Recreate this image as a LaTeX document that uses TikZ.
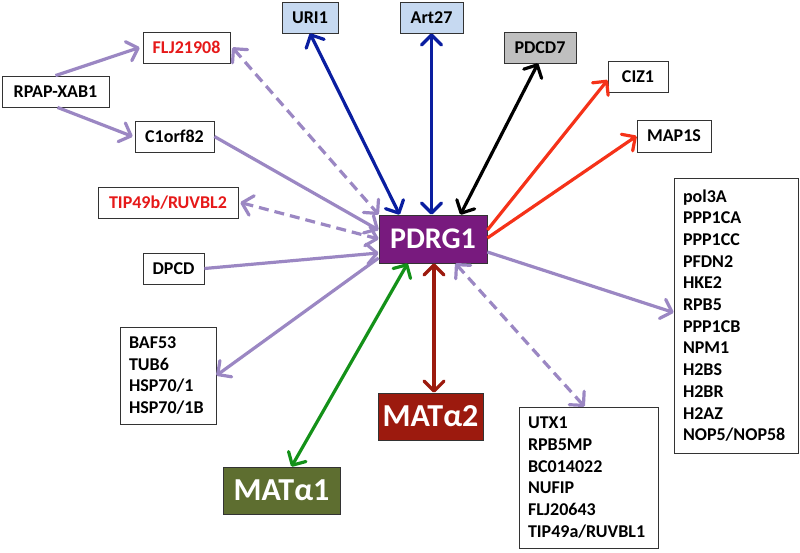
\documentclass[tikz,border=0pt]{standalone}
\usepackage{fontspec}
\setmainfont{Carlito}
\usetikzlibrary{arrows.meta}
\definecolor{lav}{RGB}{155,135,195}
\definecolor{pdrgc}{RGB}{120,26,126}
\definecolor{mat1c}{RGB}{94,110,48}
\definecolor{mat2c}{RGB}{156,26,14}
\definecolor{bluec}{RGB}{10,30,160}
\definecolor{redc}{RGB}{245,50,25}
\definecolor{greenc}{RGB}{20,145,25}
\definecolor{lbluec}{RGB}{198,217,241}
\definecolor{grayc}{RGB}{191,191,191}
\definecolor{redtext}{RGB}{230,25,25}
\begin{document}
\begin{tikzpicture}[x=1pt,y=-1pt,
  box/.style={draw=black!80, line width=0.8pt, fill=white, inner sep=0pt,
    font=\fontsize{18}{21.7}\selectfont\bfseries},
  listbox/.style={box, align=left, inner xsep=9pt},
  bigbox/.style={draw=black!80, line width=0.8pt, inner sep=0pt, text=white},
  tipa/.tip={Straight Barb[length=10pt,width=20pt,round]},
  conn/.style={line width=3.2pt, -tipa},
  both/.style={line width=3.2pt, tipa-tipa},
  dsh/.style={dash pattern=on 10pt off 6pt}
]
\useasboundingbox (0,0) rectangle (800,552);

% nodes
\node[box, fill=lbluec, minimum width=56pt, minimum height=31pt] (uri) at (310,17.5) {URI1};
\node[box, fill=lbluec, minimum width=63pt, minimum height=31pt] (art) at (431.5,17.5) {Art27};
\node[box, fill=grayc, minimum width=72pt, minimum height=31pt] (pdcd) at (540,47.5) {PDCD7};
\node[box, minimum width=60pt, minimum height=31pt] (ciz) at (638,76.5) {CIZ1};
\node[box, minimum width=74pt, minimum height=32pt] (map) at (674,136) {MAP1S};
\node[box, text=redtext, minimum width=87pt, minimum height=31pt] (flj) at (186.5,47.5) {FLJ21908};
\node[box, minimum width=107pt, minimum height=31pt] (rpap) at (55.5,91.5) {RPAP-XAB1};
\node[box, minimum width=79pt, minimum height=31pt] (c1) at (174.5,136.5) {C1orf82};
\node[box, text=redtext, minimum width=140pt, minimum height=31pt] (tip) at (168,202.5) {TIP49b/RUVBL2};
\node[box, minimum width=61pt, minimum height=31pt] (dpcd) at (173.5,268.5) {DPCD};
\node[bigbox, fill=pdrgc, minimum width=108pt, minimum height=48pt,
  font=\fontsize{30}{32}\selectfont\bfseries] (pdrg) at (433,239) {PDRG1};
\node[listbox, text width=78pt, minimum height=97pt] (baf) at (168,375.5)
  {BAF53\\TUB6\\HSP70/1\\HSP70/1B};
\node[bigbox, fill=mat1c, minimum width=117pt, minimum height=47pt,
  font=\fontsize{32}{34}\selectfont\bfseries] (mat1) at (281.5,490.5) {MATα1};
\node[bigbox, fill=mat2c, minimum width=105pt, minimum height=47pt,
  font=\fontsize{32}{34}\selectfont\bfseries] (mat2) at (430.5,416.5) {MATα2};
\node[listbox, text width=121pt, minimum height=141pt] (utx) at (588.5,477.5)
  {UTX1\\RPB5MP\\BC014022\\NUFIP\\FLJ20643\\TIP49a/RUVBL1};
\node[listbox, text width=106pt, minimum height=275pt] (pol) at (736,315.5)
  {pol3A\\PPP1CA\\PPP1CC\\PFDN2\\HKE2\\RPB5\\PPP1CB\\NPM1\\H2BS\\H2BR\\H2AZ\\NOP5/NOP58};

% connectors
\draw[conn, lav] (rpap.north) -- ([xshift=-3pt]flj.west);
\draw[conn, lav] ([xshift=2pt]rpap.south) -- ([xshift=-2pt]c1.west);
\draw[both, lav, dsh] ([xshift=2pt]flj.east) -- (pdrg.north west);
\draw[conn, lav] (c1.east) -- ([yshift=9pt]pdrg.west);
\draw[both, lav, dsh] ([xshift=2pt]tip.east) -- (pdrg.west);
\draw[conn, lav] (dpcd.east) -- ([yshift=-14pt]pdrg.west);
\draw[conn, lav] ([yshift=-19pt]pdrg.west) -- (baf.east);
\draw[both, bluec] (uri.south) -- ([xshift=21pt]pdrg.north west);
\draw[both, bluec] (art.south) -- ([xshift=-1.5pt]pdrg.north);
\draw[both, black] ([xshift=-2pt]pdcd.south) -- ([xshift=-27pt]pdrg.north east);
\draw[conn, redc] ([yshift=9pt]pdrg.east) -- ([yshift=-3.5pt]ciz.west);
\draw[conn, redc] ([yshift=1pt]pdrg.east) -- (map.west);
\draw[conn, lav] ([yshift=-13pt]pdrg.east) -- ([yshift=3pt]pol.west);
\draw[both, lav, dsh] ([xshift=-32pt]pdrg.south east) -- ([xshift=-4pt]utx.north);
\draw[both, mat2c] ([xshift=1pt]pdrg.south) -- ([xshift=3.5pt]mat2.north);
\draw[both, greenc] ([xshift=29pt]pdrg.south west) -- ([xshift=10pt]mat1.north);
\end{tikzpicture}
\end{document}
